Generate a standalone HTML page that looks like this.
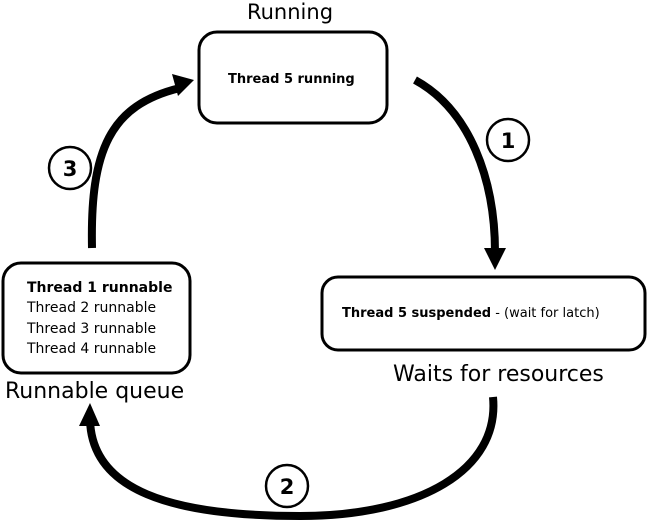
<!DOCTYPE html>
<html><head><style>
body{margin:0;width:647px;height:520px;background:#fff;overflow:hidden}
svg text{font-family:"DejaVu Sans","Liberation Sans",sans-serif;fill:#000}
</style></head><body>
<svg width="647" height="520" viewBox="0 0 647 520" xmlns="http://www.w3.org/2000/svg">
<rect x="199" y="32" width="188" height="91" rx="18" fill="none" stroke="#000" stroke-width="3"/>
<rect x="3" y="263" width="187" height="110" rx="18" fill="none" stroke="#000" stroke-width="3"/>
<rect x="322" y="277" width="323" height="73" rx="16" fill="none" stroke="#000" stroke-width="3"/>
<text x="290" y="19" font-size="21" text-anchor="middle">Running</text>
<text x="228" y="83" font-size="13" font-weight="bold">Thread 5 running</text>
<text x="27" y="292" font-size="14" font-weight="bold">Thread 1 runnable</text>
<text x="27" y="312" font-size="14">Thread 2 runnable</text>
<text x="27" y="333" font-size="14">Thread 3 runnable</text>
<text x="27" y="353" font-size="14">Thread 4 runnable</text>
<text x="342" y="317" font-size="13"><tspan font-weight="bold">Thread 5 suspended</tspan> - (wait for latch)</text>
<text x="393" y="381" font-size="22">Waits for resources</text>
<text x="5" y="398" font-size="22">Runnable queue</text>
<g fill="none" stroke="#000" stroke-width="8">
<path d="M415 80 C470 110 495 180 495 252"/>
<path d="M92 248 C90 150 110 105 180 88"/>
<path d="M493 397 C500 470 420 516 300 516 C170 516 92 490 90 420"/>
</g>
<g fill="#000">
<polygon points="484,248 506,248 495,270"/>
<polygon points="172,74 194,80 178,96"/>
<polygon points="79,426 100,426 90,403"/>
</g>
<g fill="#fff" stroke="#000" stroke-width="2.5">
<circle cx="508" cy="140" r="21"/>
<circle cx="70" cy="168" r="21"/>
<circle cx="287" cy="486" r="21"/>
</g>
<text x="508" y="148" font-size="21" font-weight="bold" text-anchor="middle">1</text>
<text x="70" y="176" font-size="21" font-weight="bold" text-anchor="middle">3</text>
<text x="287" y="494" font-size="21" font-weight="bold" text-anchor="middle">2</text>
</svg>
</body></html>
